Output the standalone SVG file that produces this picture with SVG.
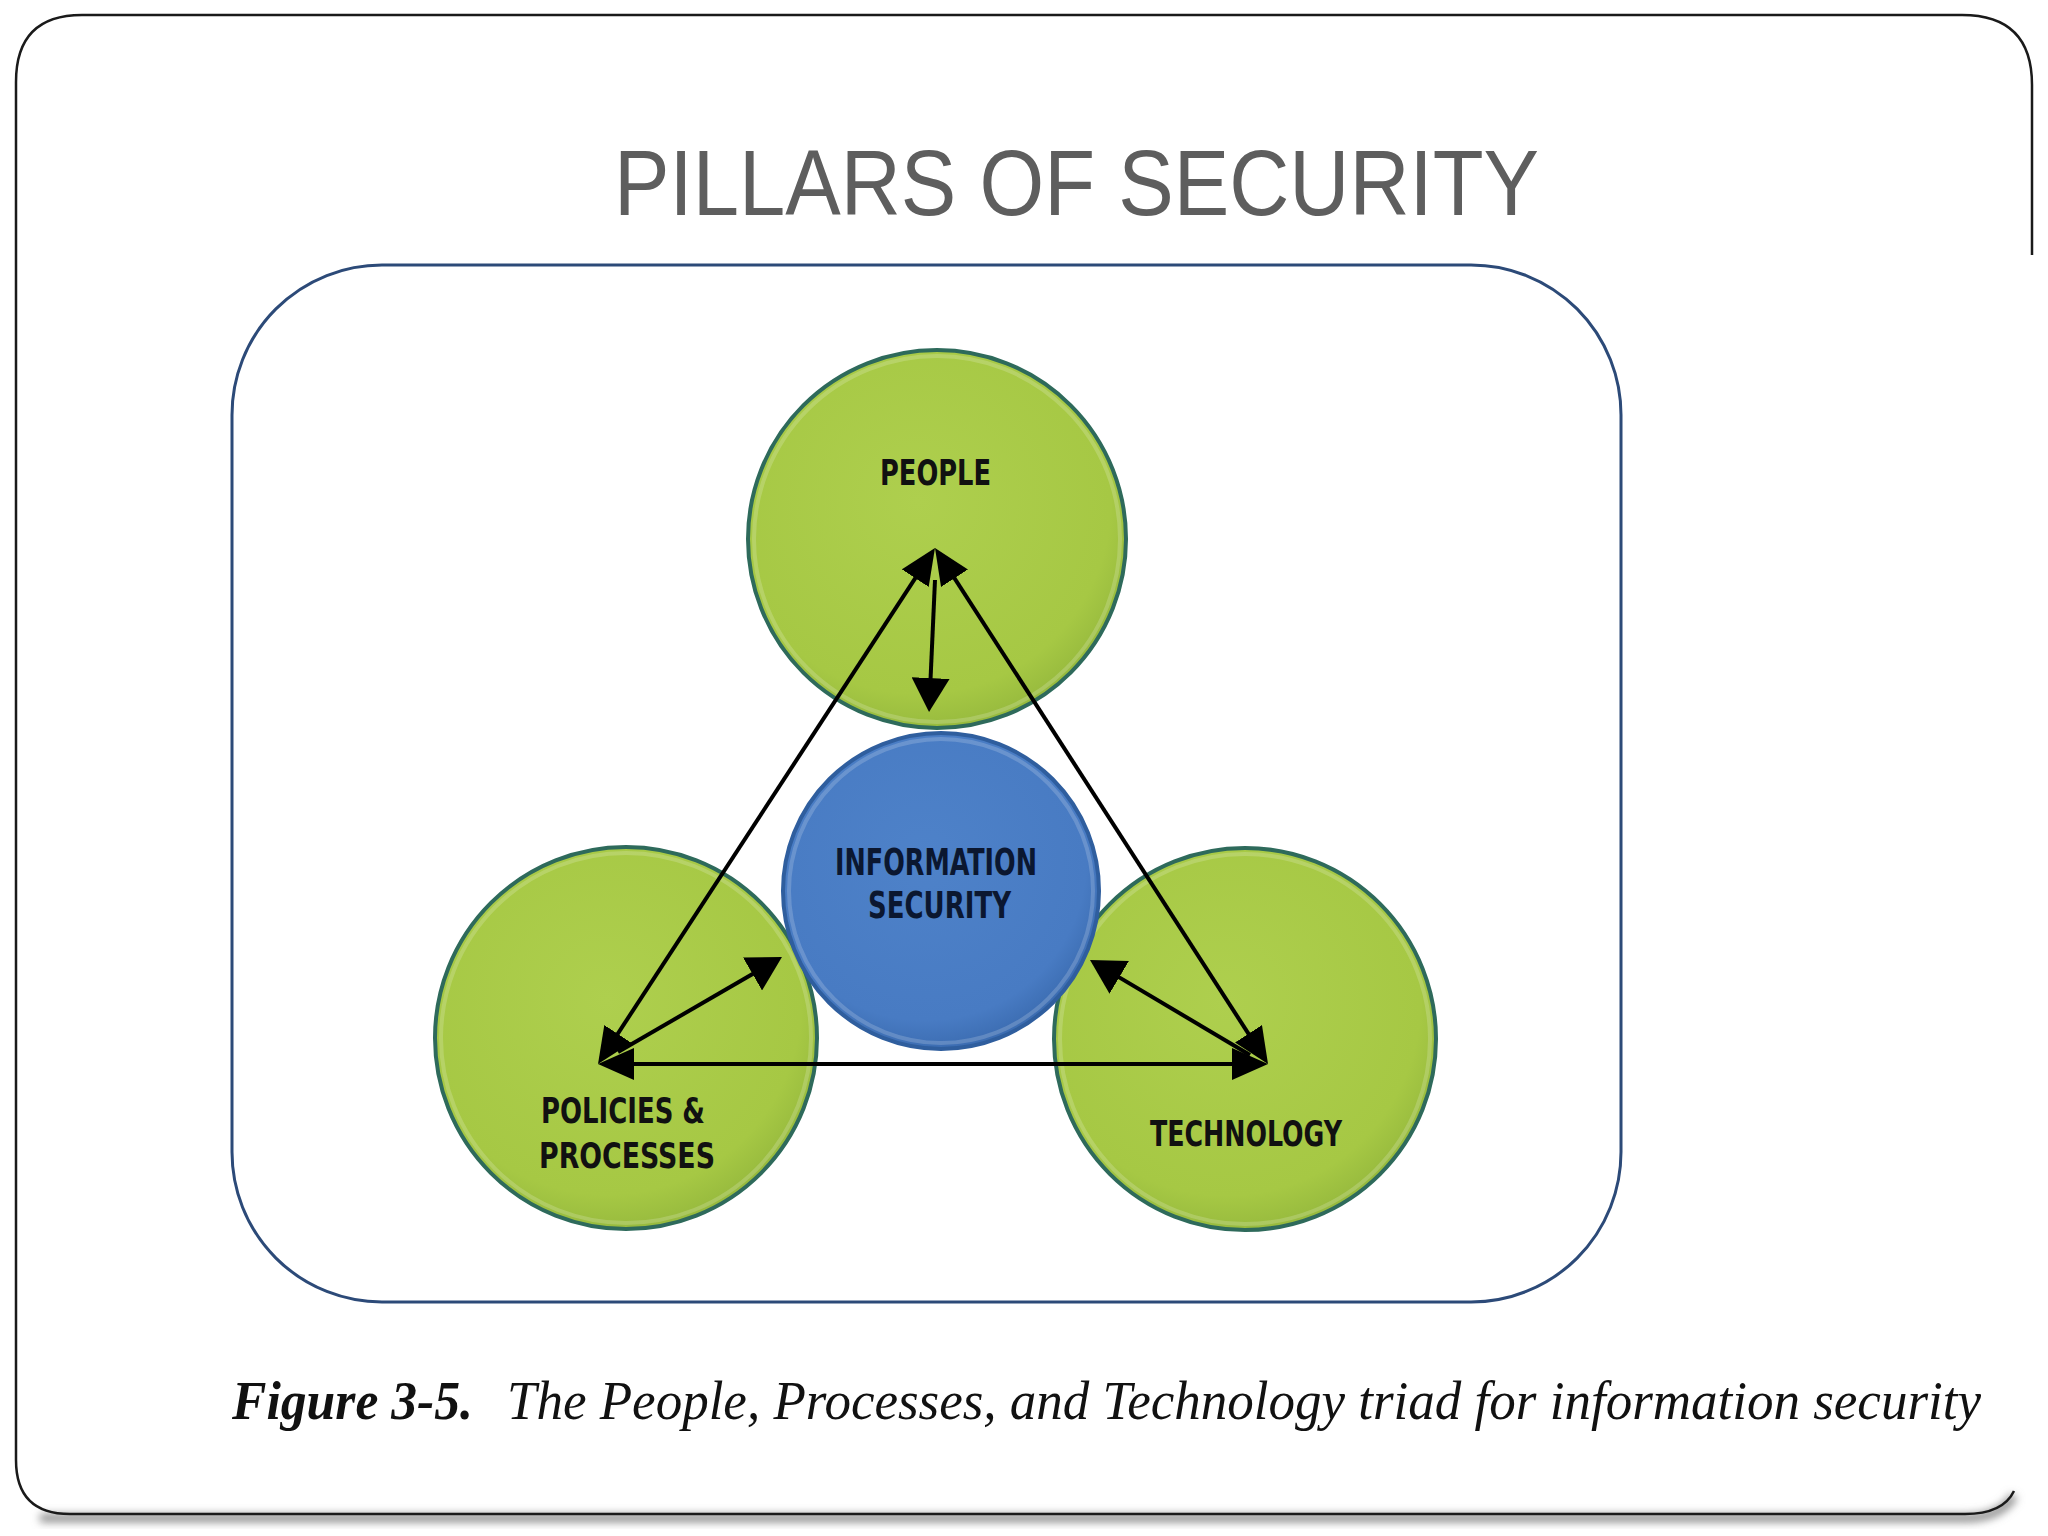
<svg xmlns="http://www.w3.org/2000/svg" width="2048" height="1536" viewBox="0 0 2048 1536">
<defs>
<style>
.frame{fill:none;stroke:#1a1a1a;stroke-width:2.5}
.green{fill:url(#gg);stroke:#2E6A5B;stroke-width:4}
.blue{fill:url(#bg);stroke:#2F5E9E;stroke-width:4}
.rim{fill:none;stroke:#ffffff;stroke-opacity:0.18;stroke-width:4}
.lbl{font-family:"DejaVu Sans Condensed","Liberation Sans Narrow","Liberation Sans",sans-serif;font-weight:bold;font-size:36px;fill:#111}
.lblb{font-family:"DejaVu Sans Condensed","Liberation Sans Narrow","Liberation Sans",sans-serif;font-weight:bold;font-size:37px;fill:#0B1730}
.ln{stroke:#000;stroke-width:4;fill:none}
.title{font-family:"Liberation Sans","Open Sans",sans-serif;font-size:92px;fill:#5E5E5E}
.cap{font-family:"Liberation Serif","DejaVu Serif",serif;font-style:italic;font-size:54px;fill:#111}
</style>
<radialGradient id="gg" cx="45%" cy="40%" r="60%">
<stop offset="0" stop-color="#AECF4E"/>
<stop offset="0.85" stop-color="#A6C844"/>
<stop offset="1" stop-color="#98BB3E"/>
</radialGradient>
<radialGradient id="bg" cx="45%" cy="40%" r="60%">
<stop offset="0" stop-color="#4E82C9"/>
<stop offset="0.85" stop-color="#487BC3"/>
<stop offset="1" stop-color="#3C6DB2"/>
</radialGradient>
<marker id="ah" viewBox="0 0 36 32" refX="26" refY="16" markerWidth="36" markerHeight="32" markerUnits="userSpaceOnUse" orient="auto-start-reverse">
<path d="M0,0 L36,16 L0,32 z" fill="#000"/>
</marker>
<marker id="ahs" viewBox="0 0 34 38" refX="24" refY="19" markerWidth="34" markerHeight="38" markerUnits="userSpaceOnUse" orient="auto">
<path d="M0,0 L34,19 L0,38 z" fill="#000"/>
</marker>
<filter id="sh" x="-5%" y="-50%" width="110%" height="200%">
<feGaussianBlur stdDeviation="4"/>
</filter>
</defs>

<g id="slide-frame">
<path d="M40,1518 L1965,1518 Q2000,1518 2014,1496" fill="none" stroke="#888" stroke-width="8" filter="url(#sh)"/>
<path class="frame" d="M16,1460 L16,82 Q16,15 82,15 L1962,15 Q2032,15 2032,85 L2032,255"/>
<path class="frame" d="M16,1460 Q16,1514 70,1514 L1965,1514 Q2003,1514 2014,1491"/>
</g>

<g id="title">
<text class="title" x="614" y="215" textLength="925" lengthAdjust="spacingAndGlyphs">PILLARS OF SECURITY</text>
</g>

<g id="figure-frame">
<rect x="232" y="265" width="1389" height="1037" rx="150" ry="150" fill="none" stroke="#2C4A78" stroke-width="3"/>
</g>

<g id="node-people">
<circle class="green" cx="937" cy="539" r="189"/>
<circle class="rim" cx="937" cy="539" r="183"/>
<text class="lbl" x="880" y="485" textLength="111" lengthAdjust="spacingAndGlyphs">PEOPLE</text>
</g>

<g id="node-policies">
<circle class="green" cx="626" cy="1038" r="191"/>
<circle class="rim" cx="626" cy="1038" r="185"/>
<text class="lbl" x="541" y="1123" textLength="164" lengthAdjust="spacingAndGlyphs">POLICIES &amp;</text>
<text class="lbl" x="539" y="1168" textLength="176" lengthAdjust="spacingAndGlyphs">PROCESSES</text>
</g>

<g id="node-technology">
<circle class="green" cx="1245" cy="1039" r="191"/>
<circle class="rim" cx="1245" cy="1039" r="185"/>
<text class="lbl" x="1150" y="1146" textLength="192" lengthAdjust="spacingAndGlyphs">TECHNOLOGY</text>
</g>

<g id="node-infosec">
<circle class="blue" cx="941" cy="891" r="158"/>
<circle class="rim" cx="941" cy="891" r="152"/>
<text class="lblb" x="835" y="875" textLength="202" lengthAdjust="spacingAndGlyphs">INFORMATION</text>
<text class="lblb" x="868" y="918" textLength="143" lengthAdjust="spacingAndGlyphs">SECURITY</text>
</g>

<g id="connectors">
<line class="ln" x1="929.5" y1="556.4" x2="603.5" y2="1055.6" marker-start="url(#ah)" marker-end="url(#ah)"/>
<line class="ln" x1="940.4" y1="556.4" x2="1262.6" y2="1055.6" marker-start="url(#ah)" marker-end="url(#ah)"/>
<line class="ln" x1="608" y1="1064" x2="1258" y2="1064" marker-start="url(#ah)" marker-end="url(#ah)"/>
<line class="ln" x1="935" y1="580" x2="929.5" y2="702" marker-end="url(#ahs)"/>
<line class="ln" x1="618" y1="1052" x2="773.3" y2="962" marker-end="url(#ahs)"/>
<line class="ln" x1="1250" y1="1055" x2="1098.6" y2="965.1" marker-end="url(#ahs)"/>
</g>

<g id="caption">
<text class="cap" x="232" y="1419" font-weight="bold" textLength="241" lengthAdjust="spacingAndGlyphs">Figure 3-5.</text>
<text class="cap" x="507" y="1419" textLength="1474" lengthAdjust="spacingAndGlyphs">The People, Processes, and Technology triad for information security</text>
</g>
</svg>
